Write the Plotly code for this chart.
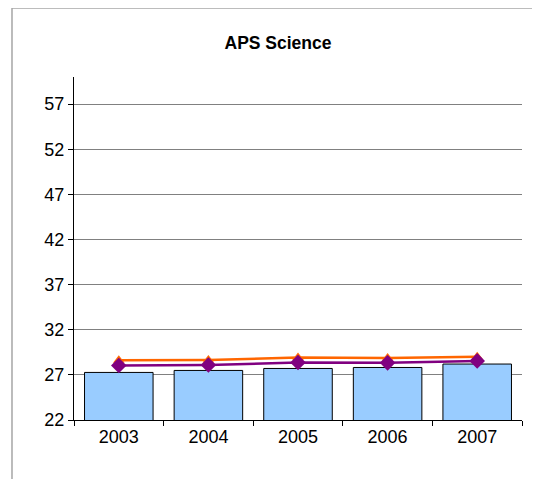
import plotly.graph_objects as go

years = ["2003", "2004", "2005", "2006", "2007"]
bar_values = [27.27, 27.49, 27.71, 27.82, 28.2]
purple_values = [28.04, 28.1, 28.37, 28.33, 28.55]
orange_values = [28.62, 28.66, 28.92, 28.88, 29.0]
y_ticks = [22, 27, 32, 37, 42, 47, 52, 57]

font = "Liberation Sans, Arial, sans-serif"

# the page body has an 8px margin, so the figure is sized to fit inside it
W, H = 532, 471

fig = go.Figure()
fig.add_trace(go.Bar(
    x=years, y=bar_values,
    marker=dict(color="#99CCFF", line=dict(color="#000000", width=1)),
    showlegend=False,
))
fig.add_trace(go.Scatter(
    x=years, y=orange_values, mode="lines+markers",
    line=dict(color="#FF6600", width=2.5),
    marker=dict(symbol="triangle-up", size=10, color="#FF6600"),
    showlegend=False,
))
fig.add_trace(go.Scatter(
    x=years, y=purple_values, mode="lines+markers",
    line=dict(color="#800080", width=2.5),
    marker=dict(symbol="diamond", size=12, color="#800080"),
    showlegend=False,
))

fig.update_layout(
    width=W, height=H,
    margin=dict(l=66, r=18, t=69, b=59),
    paper_bgcolor="white", plot_bgcolor="white",
    bargap=0.235,
    font=dict(family=font, size=18, color="#000000"),
    title=dict(text="<b>APS Science</b>", x=(278 - 8) / W, xanchor="center",
               y=1 - 35 / H, yanchor="middle",
               font=dict(family=font, size=17.5, color="#000000")),
    shapes=[dict(type="rect", xref="paper", yref="paper",
                 x0=-0.1384, x1=1.3, y0=-0.4, y1=1.201,
                 line=dict(color="#A6A6A6", width=1.5), layer="below")],
)
fig.update_yaxes(
    range=[22, 60], tickvals=y_ticks, showgrid=True, gridcolor="#808080",
    gridwidth=1, showline=True, linecolor="#000000", linewidth=1,
    ticks="outside", ticklen=5, tickcolor="#000000", zeroline=False,
    tickfont=dict(size=18),
)
fig.update_xaxes(
    showline=True, linecolor="#000000", linewidth=1, ticks="outside",
    tickson="boundaries", ticklen=5, tickcolor="#000000", showgrid=False,
    tickfont=dict(size=18),
)

fig.write_html("out.html")
